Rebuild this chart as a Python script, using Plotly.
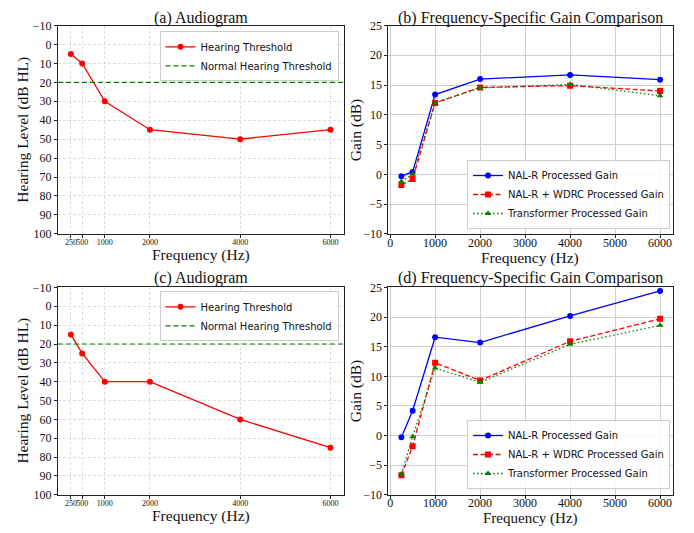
import plotly.graph_objects as go

freqs = [250, 500, 1000, 2000, 4000, 6000]
freq_ticks = ["250", "500", "1000", "2000", "4000", "6000"]

hl_a = [5, 10, 30, 45, 50, 45]
hl_c = [15, 25, 40, 40, 60, 75]
normal_threshold = 20

nalr_b = [-0.3, 0.4, 13.4, 16.0, 16.7, 15.9]
wdrc_b = [-1.8, -0.8, 12.0, 14.6, 14.9, 14.0]
trans_b = [-1.2, 0.0, 12.0, 14.5, 15.1, 13.2]

nalr_d = [-0.3, 4.2, 16.6, 15.7, 20.2, 24.4]
wdrc_d = [-6.7, -1.8, 12.3, 9.3, 15.9, 19.7]
trans_d = [-6.5, -0.2, 11.4, 9.0, 15.4, 18.6]

titles = ["(a) Audiogram", "(b) Frequency-Specific Gain Comparison",
          "(c) Audiogram", "(d) Frequency-Specific Gain Comparison"]
xlabels = ["Frequency (Hz)"] * 4
ylabels = ["Hearing Level (dB HL)", "Gain (dB)", "Hearing Level (dB HL)", "Gain (dB)"]

W, H = 694, 533
SERIF = "Liberation Serif, Times New Roman, serif"
SANS = "DejaVu Sans, sans-serif"

def px_x(a, b):
    return [a / W, b / W]

def px_y(top, bot):
    return [1 - bot / H, 1 - top / H]

fig = go.Figure()

XL = (57, 343)
XR = (388, 673)
YT = (19, 233)
YB = (288, 501)

axes = {
    1: (XL, YT, "audio"),
    2: (XR, YT, "gain"),
    3: (XL, YB, "audio"),
    4: (XR, YB, "gain"),
}

layout = {}
for i, (xp, yp, kind) in axes.items():
    xd, yd = px_x(*xp), px_y(*yp)
    xn = "xaxis" if i == 1 else f"xaxis{i}"
    yn = "yaxis" if i == 1 else f"yaxis{i}"
    xa = "x" if i == 1 else f"x{i}"
    ya = "y" if i == 1 else f"y{i}"
    common = dict(showline=True, mirror=True, linecolor="#222", linewidth=1,
                  ticks="outside", ticklen=3, tickcolor="#222", zeroline=False,
                  showgrid=True, tickangle=0)
    if kind == "audio":
        layout[xn] = dict(domain=xd, anchor=ya, range=[-37.5, 6287.5],
                          tickvals=freqs, ticktext=freq_ticks, ticklabelstandoff=-2,
                          tickfont=dict(family=SERIF, size=8, color="#111"),
                          gridcolor="#dedede", griddash="3px,2px", **common)
        layout[yn] = dict(domain=yd, anchor=xa, range=[100, -10],
                          tickvals=list(range(-10, 101, 10)),
                          tickfont=dict(family=SERIF, size=12, color="#111"),
                          gridcolor="#dedede", griddash="3px,2px", **common)
    else:
        layout[xn] = dict(domain=xd, anchor=ya, range=[-37.5, 6287.5],
                          tickvals=list(range(0, 6001, 1000)),
                          ticklabelstandoff=-6 if i == 4 else -5,
                          tickfont=dict(family=SERIF, size=12, color="#111"),
                          gridcolor="#cfcfcf", **common)
        layout[yn] = dict(domain=yd, anchor=xa, range=[-10, 25],
                          tickvals=list(range(-10, 26, 5)),
                          tickfont=dict(family=SERIF, size=12, color="#111"),
                          gridcolor="#cfcfcf", **common)

def add_audio(i, hl, legend):
    xa = "x" if i == 1 else f"x{i}"
    ya = "y" if i == 1 else f"y{i}"
    fig.add_trace(go.Scatter(x=freqs, y=hl, mode="lines+markers", name="Hearing Threshold",
                             line=dict(color="red", width=1.3), marker=dict(color="red", size=6),
                             xaxis=xa, yaxis=ya, legend=legend))
    fig.add_trace(go.Scatter(x=[-37.5, 6287.5], y=[normal_threshold, normal_threshold], mode="lines",
                             name="Normal Hearing Threshold",
                             line=dict(color="green", width=1.2, dash="5px,3px"),
                             xaxis=xa, yaxis=ya, legend=legend))

def add_gain(i, a, b, c, legend):
    xa = "x" if i == 1 else f"x{i}"
    ya = "y" if i == 1 else f"y{i}"
    fig.add_trace(go.Scatter(x=freqs, y=a, mode="lines+markers", name="NAL-R Processed Gain",
                             line=dict(color="blue", width=1.3), marker=dict(color="blue", size=6, symbol="circle"),
                             xaxis=xa, yaxis=ya, legend=legend))
    fig.add_trace(go.Scatter(x=freqs, y=b, mode="lines+markers", name="NAL-R + WDRC Processed Gain",
                             line=dict(color="red", width=1.3, dash="5px,2.5px"), marker=dict(color="red", size=6, symbol="square"),
                             xaxis=xa, yaxis=ya, legend=legend))
    fig.add_trace(go.Scatter(x=freqs, y=c, mode="lines+markers", name="Transformer Processed Gain",
                             line=dict(color="green", width=1.3, dash="1.5px,2.5px"), marker=dict(color="green", size=6, symbol="triangle-up"),
                             xaxis=xa, yaxis=ya, legend=legend))

add_audio(1, hl_a, "legend")
add_gain(2, nalr_b, wdrc_b, trans_b, "legend2")
add_audio(3, hl_c, "legend3")
add_gain(4, nalr_d, wdrc_d, trans_d, "legend4")

leg_common = dict(font=dict(family=SANS, size=10, color="#111"), bgcolor="rgba(255,255,255,0.85)",
                  bordercolor="#cccccc", borderwidth=1, tracegroupgap=0, itemwidth=30)
layout["legend"] = dict(x=338 / W, y=1 - 25 / H, xanchor="right", yanchor="top", **leg_common)
layout["legend2"] = dict(x=670 / W, y=1 - 228 / H, xanchor="right", yanchor="bottom", **leg_common)
layout["legend3"] = dict(x=338 / W, y=1 - 292 / H, xanchor="right", yanchor="top", **leg_common)
layout["legend4"] = dict(x=670 / W, y=1 - 495 / H, xanchor="right", yanchor="bottom", **leg_common)

annotations = []
title_pos = [(200, 11), (530, 11), (200, 278), (530, 278)]
xlab_pos = [(200, 255), (530, 258), (200, 523), (530, 525.5)]
xlab_size = [15.5, 15.5, 15.5, 15]
ylab_pos = [(22, 126), (355, 126), (22, 394), (355, 394)]
afont = dict(family=SERIF, size=16, color="#111")
lfont = dict(family=SERIF, size=15.5, color="#111")
for t, (cx, cy) in zip(titles, title_pos):
    annotations.append(dict(text=t, x=cx / W, y=1 - cy / H, xref="paper", yref="paper",
                            xanchor="center", yanchor="middle", showarrow=False, font=afont,
                            borderpad=0))
for t, (cx, cy), s in zip(xlabels, xlab_pos, xlab_size):
    annotations.append(dict(text=t, x=cx / W, y=1 - cy / H, xref="paper", yref="paper",
                            xanchor="center", yanchor="middle", showarrow=False,
                            font=dict(family=SERIF, size=s, color="#111"), borderpad=0))
for t, (cx, cy) in zip(ylabels, ylab_pos):
    annotations.append(dict(text=t, x=cx / W, y=1 - cy / H, xref="paper", yref="paper",
                            xanchor="center", yanchor="middle", showarrow=False, font=lfont,
                            textangle=-90, borderpad=0))

fig.update_layout(width=W, height=H, margin=dict(l=0, r=0, t=0, b=0),
                  paper_bgcolor="white", plot_bgcolor="white", showlegend=True,
                  annotations=annotations, **layout)

fig.write_html("out.html", config={"displayModeBar": False},
               post_script="document.body.style.margin='0';")
